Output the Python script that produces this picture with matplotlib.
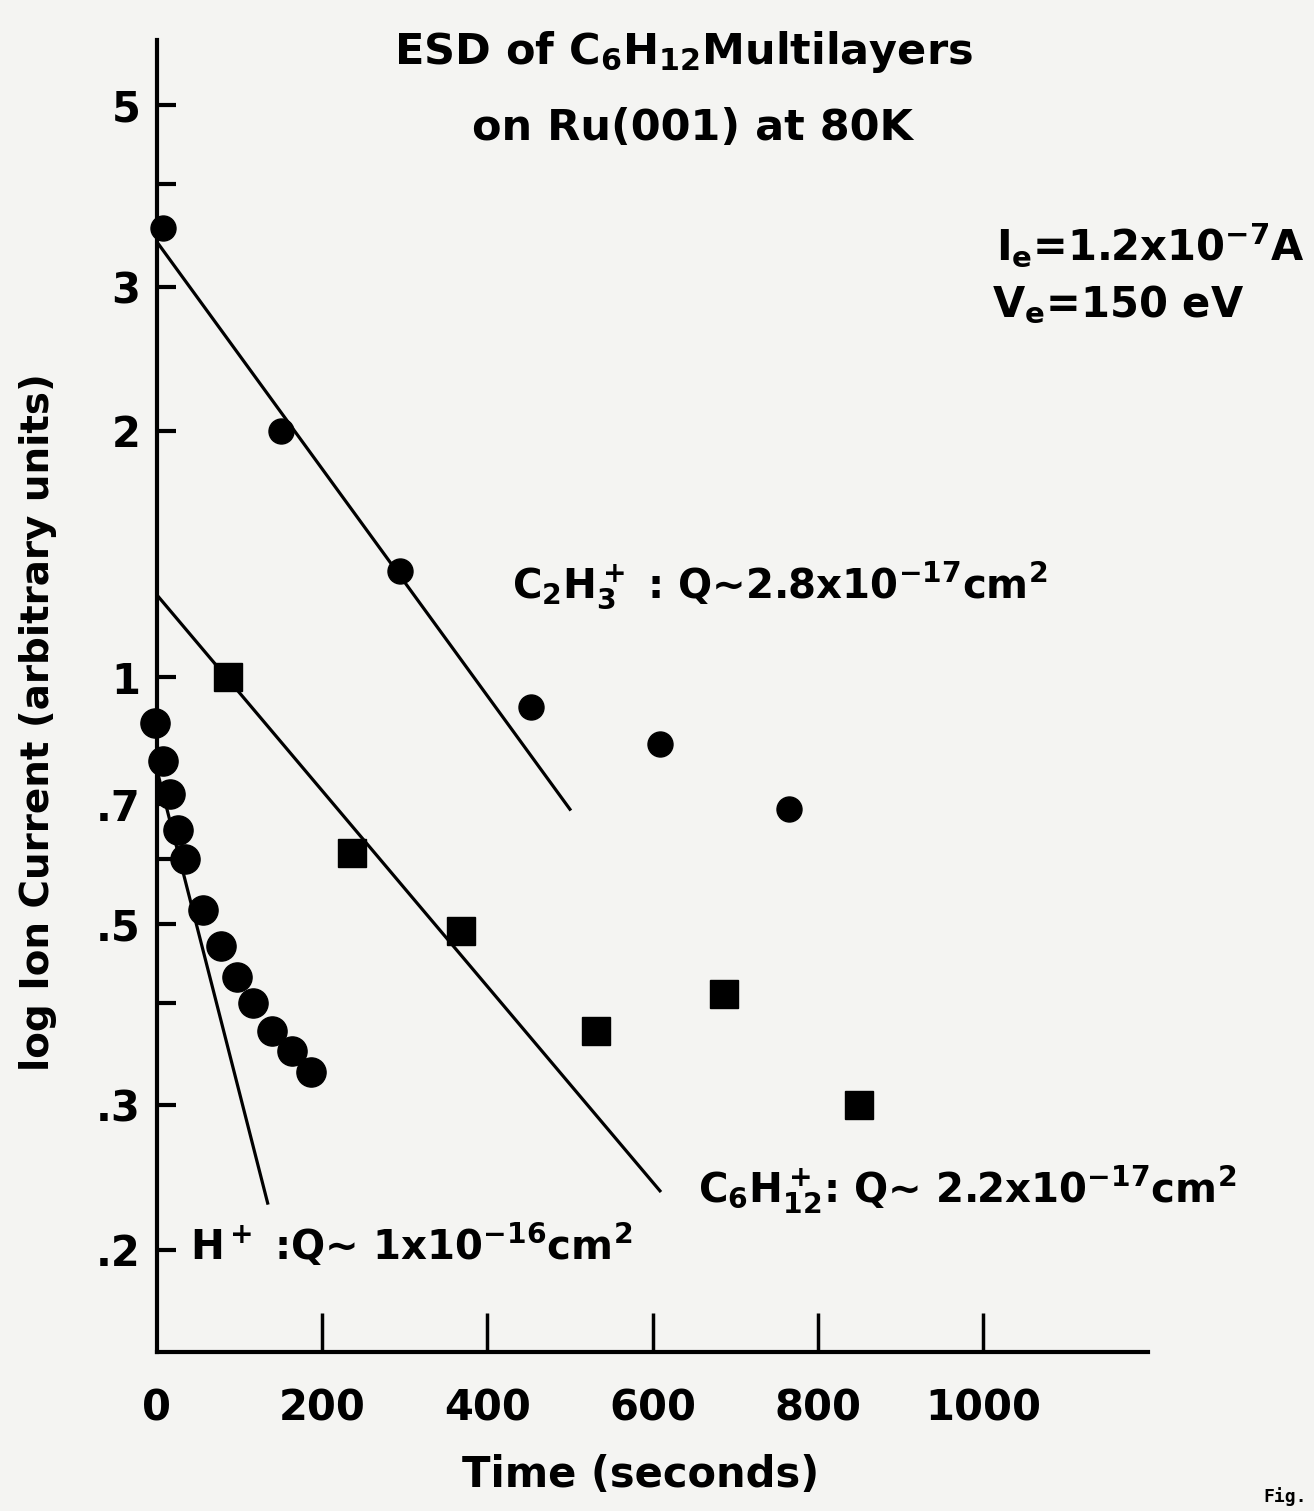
import matplotlib
matplotlib.use("Agg")
import matplotlib.pyplot as plt
import numpy as np

plt.rcParams['font.family'] = ['DejaVu Sans']
plt.rcParams['font.weight'] = 'bold'
plt.rcParams['mathtext.fontset'] = 'custom'
plt.rcParams['mathtext.rm'] = 'DejaVu Sans:bold'
plt.rcParams['mathtext.bf'] = 'DejaVu Sans:bold'
plt.rcParams['mathtext.it'] = 'DejaVu Sans:bold'
plt.rcParams['mathtext.default'] = 'rm'

# C2H3+ (cerchi piccoli)
t_c2h3 = [7, 150, 294, 453, 609, 765]
i_c2h3 = [3.54, 2.0, 1.35, 0.92, 0.83, 0.69]

# C6H12+ (quadrati)
t_c6h12 = [86, 236, 368, 531, 686, 850]
i_c6h12 = [1.0, 0.61, 0.49, 0.37, 0.41, 0.30]

# H+ (cerchi grandi)
t_h = [-2, 7, 16, 26, 34, 56, 78, 97, 116, 139, 164, 187]
i_h = [0.88, 0.79, 0.72, 0.65, 0.60, 0.52, 0.47, 0.43, 0.40, 0.37, 0.35, 0.33]

# rette di fit (estremi)
fit_c2h3_t = [0, 500]
fit_c2h3_i = [3.40, 0.69]
fit_c6h12_t = [0, 609]
fit_c6h12_i = [1.26, 0.236]
fit_h_t = [0, 134]
fit_h_i = [0.77, 0.228]

y_ticks = [5, 4, 3, 2, 1, 0.7, 0.6, 0.5, 0.4, 0.3, 0.2]
y_labels = ['5', '', '3', '2', '1', '.7', '', '.5', '', '.3', '.2']
x_ticks = [200, 400, 600, 800, 1000]

W, H = 1314, 1511
fig = plt.figure(figsize=(W / 100, H / 100), dpi=100, facecolor='#f4f4f2')
ax = fig.add_axes([157 / W, 1 - 1352 / H, (1148 - 157) / W, (1352 - 40) / H])
ax.set_facecolor('none')

ax.set_yscale('log')
ax.set_xlim(0, 1200)
ax.set_ylim(0.15, 6.0)

for s in ['top', 'right']:
    ax.spines[s].set_visible(False)
for s in ['left', 'bottom']:
    ax.spines[s].set_linewidth(3)

ax.yaxis.set_minor_locator(matplotlib.ticker.NullLocator())
ax.set_yticks(y_ticks)
ax.set_yticklabels(y_labels)
ax.set_xticks(x_ticks)
ax.set_xticklabels([])
ax.tick_params(axis='y', direction='in', length=14, width=3, pad=12, labelsize=30)
ax.tick_params(axis='x', direction='in', length=28, width=2.5, labelsize=30)

ax.plot(fit_c2h3_t, fit_c2h3_i, color='black', lw=2.3)
ax.plot(fit_c6h12_t, fit_c6h12_i, color='black', lw=2.3)
ax.plot(fit_h_t, fit_h_i, color='black', lw=2.3)

ax.plot(t_c2h3, i_c2h3, 'o', color='black', ms=18, clip_on=False)
ax.plot(t_c6h12, i_c6h12, 's', color='black', ms=20, clip_on=False)
ax.plot(t_h, i_h, 'o', color='black', ms=21, clip_on=False)

# etichette asse x
for t in [0] + x_ticks:
    ax.text(t, -0.027, str(t), transform=ax.get_xaxis_transform(),
            ha='center', va='top', fontsize=30)


def px(x, y):
    return x / W, 1 - y / H


fig.text(*px(683, 52), 'ESD of C$_6$H$_{12}$Multilayers', ha='center', va='center', fontsize=31)
fig.text(*px(692, 128), 'on Ru(001) at 80K', ha='center', va='center', fontsize=31)
fig.text(*px(1150, 245), 'I$_e$=1.2x10$^{-7}$A', ha='center', va='center', fontsize=30)
fig.text(*px(1118, 305), 'V$_e$=150 eV', ha='center', va='center', fontsize=30)
fig.text(*px(780, 585), 'C$_2$H$_3^+$ : Q\u223c2.8x10$^{-17}$cm$^2$', ha='center', va='center', fontsize=29)
fig.text(*px(967, 1190), 'C$_6$H$_{12}^+$: Q\u223c 2.2x10$^{-17}$cm$^2$', ha='center', va='center', fontsize=29)
fig.text(*px(411, 1245), 'H$^+$ :Q\u223c 1x10$^{-16}$cm$^2$', ha='center', va='center', fontsize=29)
fig.text(*px(38, 722), 'log Ion Current (arbitrary units)', ha='center', va='center',
         rotation=90, fontsize=28)
fig.text(*px(641, 1475), 'Time (seconds)', ha='center', va='center', fontsize=30)
fig.text(*px(1285, 1497), 'Fig.', ha='center', va='center', fontsize=13,
         family='DejaVu Sans Mono')

fig.savefig('out.png', dpi=100, facecolor=fig.get_facecolor())
